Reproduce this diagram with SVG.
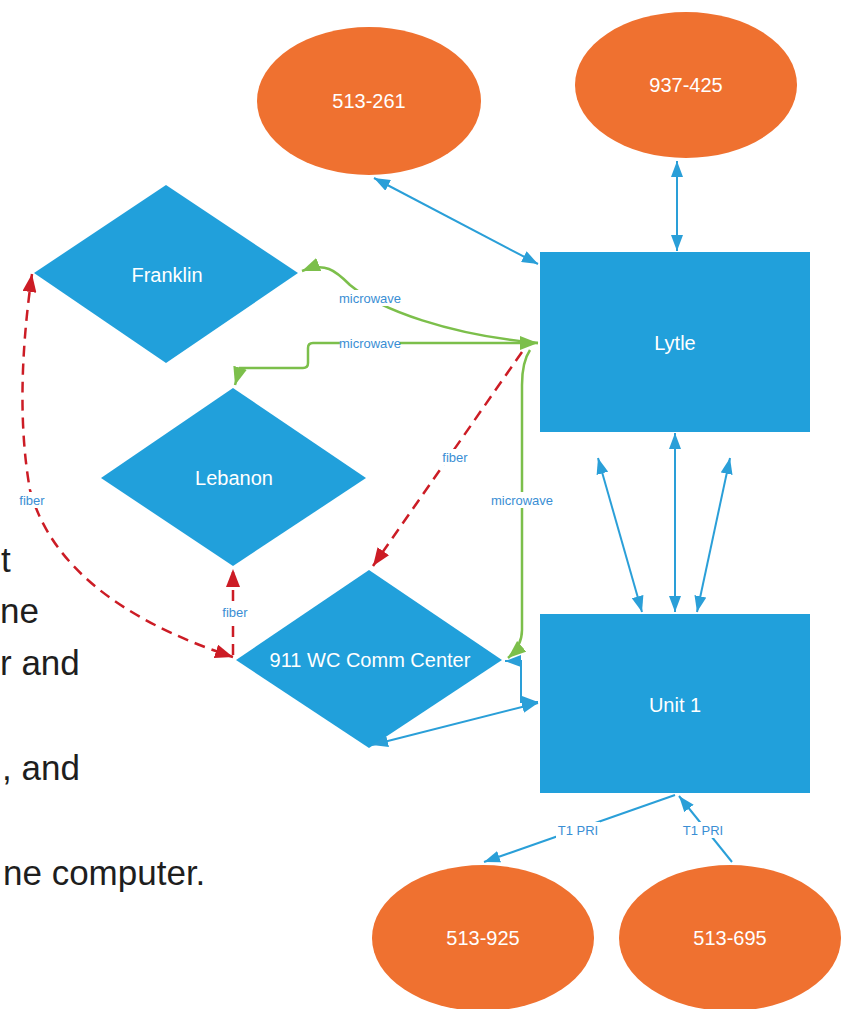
<svg xmlns="http://www.w3.org/2000/svg" width="849" height="1009" viewBox="0 0 849 1009">
<style>
.node{fill:#21a0db}
.ell{fill:#ef7130}
.lbl{font-family:"Liberation Sans",Arial,sans-serif;font-size:20px;fill:#ffffff;text-anchor:middle;dominant-baseline:central}
.cl{font-family:"Liberation Sans",Arial,sans-serif;font-size:13px;fill:#3a8ed4;text-anchor:middle;dominant-baseline:central}
.bg{fill:#ffffff}
.blue{fill:none;stroke:#2a9fd8;stroke-width:2}
.green{fill:none;stroke:#7cbf4b;stroke-width:2.5}
.red{fill:none;stroke:#cc1c25;stroke-width:2.5;stroke-dasharray:11 7}
.para{font-family:"Liberation Sans",Arial,sans-serif;font-size:35px;fill:#1e1e1e}
</style>
<defs>
<marker id="ab" viewBox="0 0 16 12" refX="16" refY="6" markerWidth="16" markerHeight="12" orient="auto-start-reverse" markerUnits="userSpaceOnUse"><path d="M0,0 L16,6 L0,12 z" fill="#2a9fd8"/></marker>
<marker id="ag" viewBox="0 0 18 14" refX="18" refY="7" markerWidth="18" markerHeight="14" orient="auto-start-reverse" markerUnits="userSpaceOnUse"><path d="M0,0 L18,7 L0,14 z" fill="#7cbf4b"/></marker>
<marker id="ar" viewBox="0 0 18 14" refX="18" refY="7" markerWidth="18" markerHeight="14" orient="auto-start-reverse" markerUnits="userSpaceOnUse"><path d="M0,0 L18,7 L0,14 z" fill="#cc1c25"/></marker>
</defs>

<g id="paragraph">
<text class="para" x="1" y="572">t</text>
<text class="para" x="0" y="623">ne</text>
<text class="para" x="0" y="675">r and</text>
<text class="para" x="2" y="780">, and</text>
<text class="para" x="3" y="885">ne computer.</text>
</g>

<g id="n513-261"><ellipse class="ell" cx="369" cy="101" rx="112" ry="74"/><text class="lbl" x="369" y="101">513-261</text></g>
<g id="n937-425"><ellipse class="ell" cx="686" cy="85" rx="111" ry="73"/><text class="lbl" x="686" y="85">937-425</text></g>
<g id="n513-925"><ellipse class="ell" cx="483" cy="938" rx="111" ry="73"/><text class="lbl" x="483" y="938">513-925</text></g>
<g id="n513-695"><ellipse class="ell" cx="730" cy="938" rx="111" ry="73"/><text class="lbl" x="730" y="938">513-695</text></g>

<g id="lytle"><rect class="node" x="540" y="252" width="270" height="180"/><text class="lbl" x="675" y="343">Lytle</text></g>
<g id="unit1"><rect class="node" x="540" y="614" width="270" height="179"/><text class="lbl" x="675" y="705">Unit 1</text></g>

<g id="franklin"><polygon class="node" points="34,273 166,185 298,273 166,363"/><text class="lbl" x="167" y="275">Franklin</text></g>
<g id="lebanon"><polygon class="node" points="101,478 233,388 366,478 233,566"/><text class="lbl" x="234" y="478">Lebanon</text></g>
<g id="comm"><polygon class="node" points="236,660 369,570 502,660 369,748"/><text class="lbl" x="370" y="660">911 WC Comm Center</text></g>

<g id="connectors">
<path class="blue" d="M374,178 L538,264" marker-start="url(#ab)" marker-end="url(#ab)"/>
<path class="blue" d="M677,161 L677,251" marker-start="url(#ab)" marker-end="url(#ab)"/>
<path class="blue" d="M598,458 L642,612" marker-start="url(#ab)" marker-end="url(#ab)"/>
<path class="blue" d="M675,433 L675,612" marker-start="url(#ab)" marker-end="url(#ab)"/>
<path class="blue" d="M730,458 L697,612" marker-start="url(#ab)" marker-end="url(#ab)"/>
<path class="blue" d="M372,745 L538,703" marker-start="url(#ab)" marker-end="url(#ab)"/>
<path class="blue" d="M505,661 L521,661 L521,702 L538,702" marker-start="url(#ab)" marker-end="url(#ab)"/>
<path class="blue" d="M675,795 L484,862" marker-end="url(#ab)"/>
<path class="blue" d="M732,862 L679,796" marker-end="url(#ab)"/>

<path class="green" d="M538,343 C450,335 380,310 350,285 C335,270 325,262 302,271" marker-end="url(#ag)"/>
<path class="green" d="M538,343 H313 Q308,343 308,348 V363 Q308,368 303,368 H240 L235,385" marker-start="url(#ag)" marker-end="url(#ag)"/>
<path class="green" d="M530,350 Q522,362 522,385 V630 Q522,646 508,658" marker-end="url(#ag)"/>

<path class="red" d="M522,352 L373,566" marker-end="url(#ar)"/>
<path class="red" d="M32,274 Q14,400 30,490 Q60,600 233,657" marker-start="url(#ar)" marker-end="url(#ar)"/>
<path class="red" d="M233,655 L233,569" marker-end="url(#ar)"/>

<rect class="bg" x="340" y="290" width="60" height="16"/><text class="cl" x="370" y="298">microwave</text>
<rect class="bg" x="340" y="335" width="60" height="16"/><text class="cl" x="370" y="343">microwave</text>
<rect class="bg" x="492" y="492" width="60" height="16"/><text class="cl" x="522" y="500">microwave</text>
<rect class="bg" x="439" y="449" width="32" height="16"/><text class="cl" x="455" y="457">fiber</text>
<rect class="bg" x="16" y="492" width="32" height="16"/><text class="cl" x="32" y="500">fiber</text>
<rect class="bg" x="219" y="604" width="32" height="16"/><text class="cl" x="235" y="612">fiber</text>
<rect class="bg" x="556" y="822" width="44" height="16"/><text class="cl" x="578" y="830">T1 PRI</text>
<rect class="bg" x="681" y="822" width="44" height="16"/><text class="cl" x="703" y="830">T1 PRI</text>
</g>
</svg>
